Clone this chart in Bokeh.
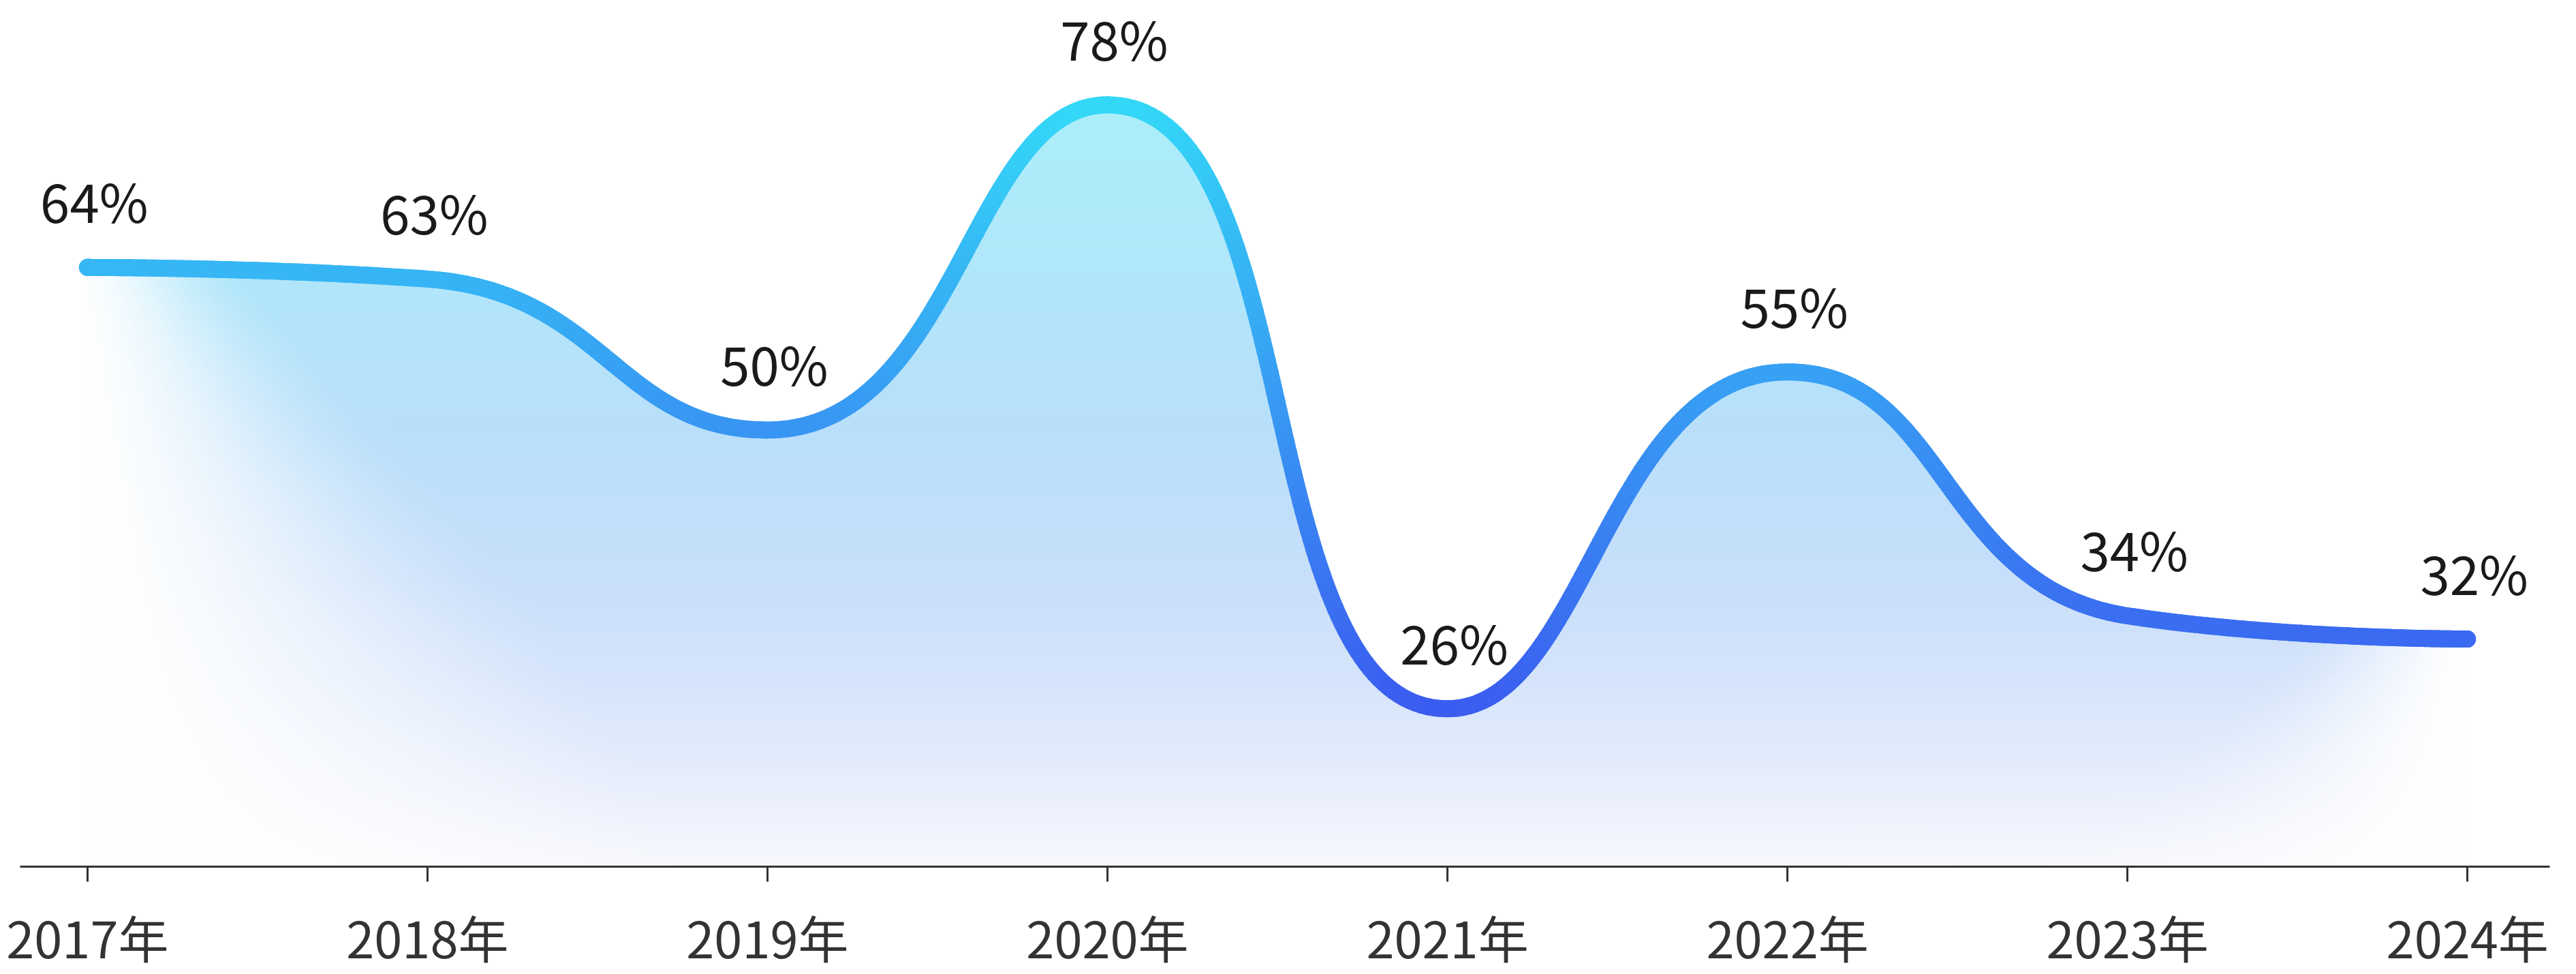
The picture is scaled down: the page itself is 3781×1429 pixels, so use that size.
import numpy as np
from bokeh.plotting import figure
from bokeh.models import FixedTicker
from bokeh.core.properties import value
from bokeh.embed import file_html
from bokeh.resources import INLINE

# ---------------- data ----------------
years = ["2017年", "2018年", "2019年", "2020年", "2021年", "2022年", "2023年", "2024年"]
rates = [64, 63, 50, 78, 26, 55, 34, 32]
rate_labels = [f"{r}%" for r in rates]

# ---------------- layout constants ----------------
W, H = 3781, 1429
PX_X = 499.0      # screen px per category step
PX_Y = 17.03      # screen px per percentage point
X0, X1 = -0.198, 7.242
Y0, Y1 = 12.4, 87.0
FONT = "Noto Sans CJK SC"

xs = np.arange(len(rates), dtype=float)
vs = np.array(rates, dtype=float)


def smooth_beziers(px, py, smooth=0.5):
    """ECharts-style smoothing with control points clamped (no overshoot)."""
    n = len(px)
    segs = []
    cp0x, cp0y = px[0], py[0]
    for k in range(1, n):
        x, y = px[k], py[k]
        prx, pry = px[k - 1], py[k - 1]
        nxt = None
        if k == n - 1:
            cp1x, cp1y = x, y
        else:
            nxx, nyy = px[k + 1], py[k + 1]
            vx, vy = nxx - prx, nyy - pry
            lp = np.hypot(x - prx, y - pry)
            ln = np.hypot(nxx - x, nyy - y)
            r = ln / (ln + lp)
            ncx = x + vx * smooth * r
            ncy = y + vy * smooth * r
            ncx = max(min(ncx, max(nxx, x)), min(nxx, x))
            ncy = max(min(ncy, max(nyy, y)), min(nyy, y))
            vx, vy = ncx - x, ncy - y
            cp1x = x - vx * lp / ln
            cp1y = y - vy * lp / ln
            cp1x = max(min(cp1x, max(prx, x)), min(prx, x))
            cp1y = max(min(cp1y, max(pry, y)), min(pry, y))
            vx, vy = x - cp1x, y - cp1y
            ncx = x + vx * ln / lp
            ncy = y + vy * ln / lp
            nxt = (ncx, ncy)
        segs.append(((prx, pry), (cp0x, cp0y), (cp1x, cp1y), (x, y)))
        if nxt is not None:
            cp0x, cp0y = nxt
    return segs


# smooth curve computed in screen-pixel space, then mapped back to data
segs = smooth_beziers(xs * PX_X, vs * PX_Y)
cx, cv = [], []
t = np.linspace(0, 1, 90)
for si, (p0, p1, p2, p3) in enumerate(segs):
    tt = t if si == 0 else t[1:]
    bx = ((1 - tt) ** 3 * p0[0] + 3 * (1 - tt) ** 2 * tt * p1[0]
          + 3 * (1 - tt) * tt ** 2 * p2[0] + tt ** 3 * p3[0])
    by = ((1 - tt) ** 3 * p0[1] + 3 * (1 - tt) ** 2 * tt * p1[1]
          + 3 * (1 - tt) * tt ** 2 * p2[1] + tt ** 3 * p3[1])
    cx.extend(bx / PX_X)
    cv.extend(by / PX_Y)
cx = np.array(cx)
cv = np.array(cv)

# ---------------- gradient area (raster under the curve) ----------------
step = 3.0
vtop = max(rates) + 1.5
nx = int(round((len(rates) - 1) * PX_X / step))
ny = int(round((vtop - Y0) * PX_Y / step))
gx = (np.arange(nx) + 0.5) / nx * (len(rates) - 1)
gv = Y0 + (np.arange(ny) + 0.5) / ny * (vtop - Y0)
curve_at = np.interp(gx, cx, cv)
V, XG = np.meshgrid(gv, gx, indexing="ij")
depth = (curve_at[None, :] - V) * PX_Y
cover = np.clip(depth / step + 0.5, 0, 1)
screen_y = (Y1 - V) * PX_Y

stop_y = [150, 400, 650, 850, 1000, 1150, 1271]
stop_rgb = np.array([(172, 239, 251), (177, 231, 250), (186, 223, 250),
                     (200, 223, 250), (214, 229, 251), (232, 238, 252),
                     (248, 249, 254)], dtype=float)
base = np.stack([np.interp(screen_y, stop_y, stop_rgb[:, c]) for c in range(3)], axis=-1)
dxp = np.minimum(XG + 0.06, (len(rates) - 1) - XG + 0.02) * PX_X
L = 250.0 + 1.1 * np.maximum(depth, 0)
s = np.clip(dxp / L, 0, 1)
fade = s * s * (3 - 2 * s)
col = 255 - (255 - base) * fade[..., None]

img = np.zeros((ny, nx), dtype=np.uint32)
view = img.view(dtype=np.uint8).reshape((ny, nx, 4))
view[:, :, 0] = np.clip(col[..., 0], 0, 255).astype(np.uint8)
view[:, :, 1] = np.clip(col[..., 1], 0, 255).astype(np.uint8)
view[:, :, 2] = np.clip(col[..., 2], 0, 255).astype(np.uint8)
view[:, :, 3] = (cover * 255).astype(np.uint8)

# ---------------- figure ----------------
p = figure(width=W, height=H, x_range=(X0, X1), y_range=(Y0, Y1),
           output_backend="svg", toolbar_location=None, y_axis_location=None,
           min_border_left=29, min_border_right=39, min_border_top=0,
           min_border_bottom=158, background_fill_color="white",
           border_fill_color="white", outline_line_color=None)
p.grid.visible = False

p.image_rgba(image=[img], x=0, y=Y0, dw=len(rates) - 1, dh=vtop - Y0)

# gradient stroke: many short segments coloured by height
top_rgb = np.array([52, 216, 247], dtype=float)
bot_rgb = np.array([59, 92, 240], dtype=float)
mid_v = 0.5 * (cv[:-1] + cv[1:])
tt = np.clip((max(rates) - mid_v) / (max(rates) - min(rates)), 0, 1)
seg_cols = ["#%02x%02x%02x" % tuple(int(round(c)) for c in (top_rgb + (bot_rgb - top_rgb) * k))
            for k in tt]
p.segment(x0=cx[:-1], y0=cv[:-1], x1=cx[1:], y1=cv[1:], line_color=seg_cols,
          line_width=25, line_cap="round")

# value labels
p.text(x=xs, y=vs, text=rate_labels, text_font=value(FONT), text_font_size="78px",
       text_color="#1a1a1a", text_align="center", text_baseline="alphabetic",
       x_offset=10, y_offset=-99)

# x axis
xa = p.xaxis[0]
xa.ticker = FixedTicker(ticks=list(range(len(years))))
xa.major_label_overrides = {i: y for i, y in enumerate(years)}
xa.axis_line_color = "#333333"
xa.axis_line_width = 3
xa.major_tick_line_color = "#333333"
xa.major_tick_line_width = 3
xa.major_tick_out = 22
xa.major_tick_in = 0
xa.minor_tick_line_color = None
xa.major_label_text_font = FONT
xa.major_label_text_font_size = "74px"
xa.major_label_text_color = "#333333"
xa.major_label_standoff = 26

open("out.html", "w").write(file_html(p, INLINE))
